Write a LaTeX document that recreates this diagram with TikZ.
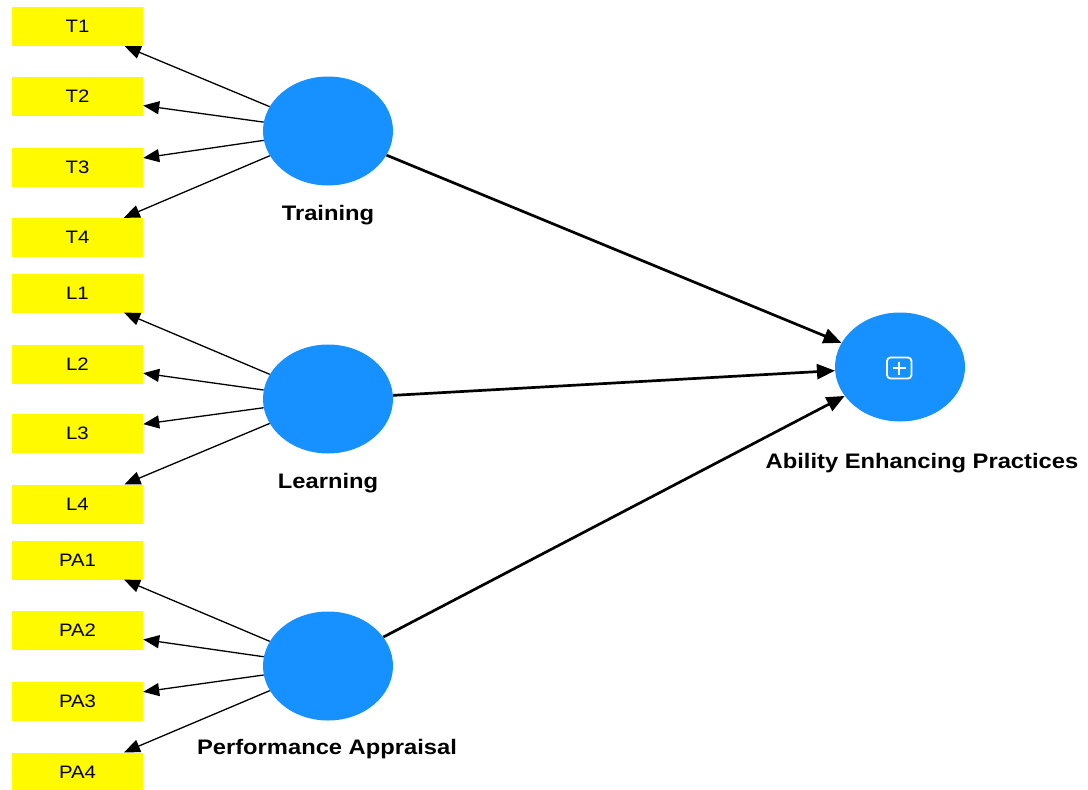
\documentclass[tikz,border=0pt]{standalone}
\usepackage{fontspec}
\setmainfont{Liberation Sans}
\usetikzlibrary{arrows.meta,shapes.geometric}
\definecolor{lvblue}{RGB}{22,145,255}
\definecolor{indyellow}{RGB}{255,250,0}
\newcommand{\wtext}[1]{\scalebox{1.13}[1]{#1}}
\begin{document}
\begin{tikzpicture}[x=1pt,y=-1pt,
  indicator/.style={fill=indyellow,draw=none,minimum width=131pt,minimum height=39pt,
    inner sep=0pt,font=\fontsize{18}{20}\selectfont},
  construct/.style={ellipse,fill=lvblue,draw=none,minimum width=130pt,minimum height=109pt,inner sep=0pt},
  clabel/.style={font=\fontsize{21}{24}\selectfont\bfseries,inner sep=0pt},
  loading/.style={line width=1.3pt,-{Triangle[length=16pt,width=13pt]}},
  path/.style={line width=2.7pt,-{Triangle[length=18pt,width=15pt]}}]
\useasboundingbox (0,0) rectangle (1088,790);

% indicator boxes
\node[indicator] (T1) at (77.5,26.5) {\wtext{T1}};
\node[indicator] (T2) at (77.5,96.5) {\wtext{T2}};
\node[indicator] (T3) at (77.5,167.5) {\wtext{T3}};
\node[indicator] (T4) at (77.5,237.5) {\wtext{T4}};
\node[indicator] (L1) at (77.5,293) {\wtext{L1}};
\node[indicator] (L2) at (77.5,364) {\wtext{L2}};
\node[indicator] (L3) at (77.5,433) {\wtext{L3}};
\node[indicator] (L4) at (77.5,504) {\wtext{L4}};
\node[indicator] (PA1) at (77.5,560) {\wtext{PA1}};
\node[indicator] (PA2) at (77.5,630) {\wtext{PA2}};
\node[indicator] (PA3) at (77.5,701) {\wtext{PA3}};
\node[indicator] (PA4) at (77.5,772) {\wtext{PA4}};

% constructs
\node[construct] (TR) at (328,131) {};
\node[construct] (LE) at (328,399) {};
\node[construct] (PA) at (328,666) {};
\node[construct] (AEP) at (900,367) {};

% construct labels
\node[clabel] (TRl) at (328,215) {\wtext{Training}};
\node[clabel] (LEl) at (328,483) {\wtext{Learning}};
\node[clabel] (PAl) at (327,749) {\wtext{Performance Appraisal}};
\node[clabel] (AEPl) at (922,463) {\wtext{Ability Enhancing Practices}};

% higher-order indicator icon
\draw[white,line width=1.8pt,rounded corners=3.5pt] (887,357.5) rectangle (911.5,378.5);
\draw[white,line width=1.8pt] (892.5,368) -- (906,368) (899.25,361.5) -- (899.25,374.5);

% outer loadings
\foreach \i in {T1,T2,T3,T4} \draw[loading] (TR) -- (\i);
\foreach \i in {L1,L2,L3,L4} \draw[loading] (LE) -- (\i);
\foreach \i in {PA1,PA2,PA3,PA4} \draw[loading] (PA) -- (\i);

% structural paths
\draw[path] (TR) -- (AEP);
\draw[path] (LE) -- (AEP);
\draw[path] (PA) -- (AEP);
\end{tikzpicture}
\end{document}
